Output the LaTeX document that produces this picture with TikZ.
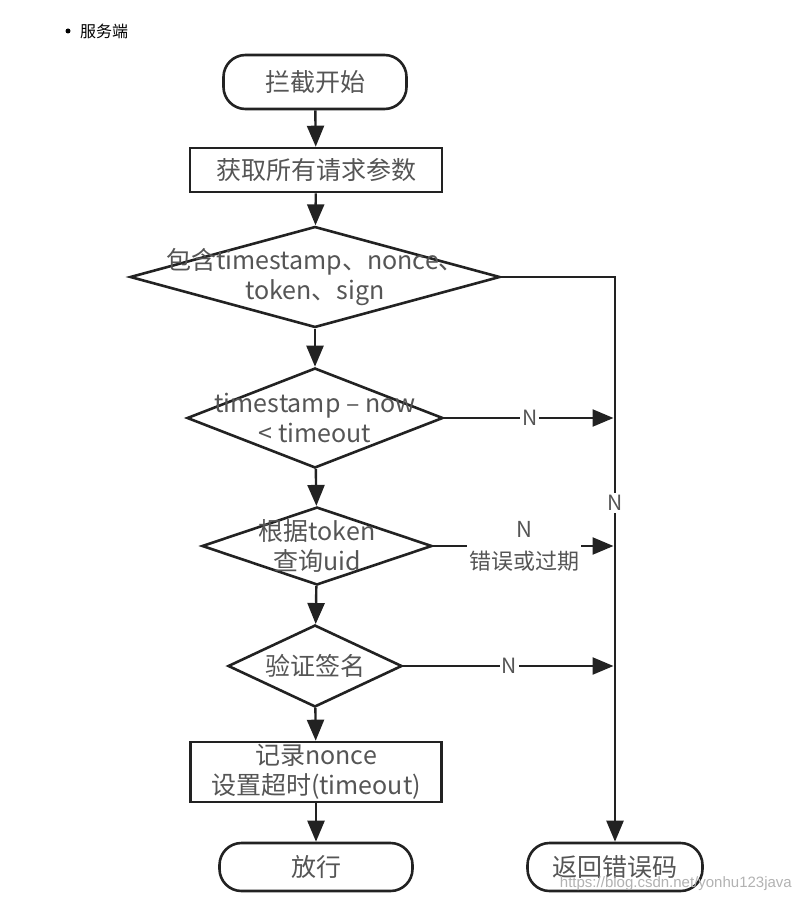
\documentclass[tikz,border=0pt]{standalone}
\usepackage{fontspec}
\setmainfont{Noto Sans CJK SC}
\newfontfamily\wmfont{Liberation Sans}
\usetikzlibrary{arrows.meta,shapes.geometric}
\definecolor{ln}{HTML}{222222}
\definecolor{tx}{HTML}{555555}
\begin{document}
\begin{tikzpicture}[x=1pt,y=-1pt,
  mainfont/.style={font=\fontsize{25}{30}\selectfont},
  box/.style={draw=ln,line width=2.6pt,fill=white,text=tx,mainfont,inner sep=0pt,align=center},
  pill/.style={box,rounded corners=22pt},
  dia/.style={draw=ln,line width=2.6pt,diamond,inner sep=0pt,fill=white},
  lbl/.style={text=tx,mainfont,align=center,inner sep=0pt},
  nlbl/.style={text=tx,font=\fontsize{21}{24}\selectfont,fill=white,inner sep=2pt,align=center},
  conn/.style={draw=ln,line width=2.4pt,-{Triangle[length=21pt,width=17pt]}},
]
\useasboundingbox (0,0) rectangle (801,901);

% bullet heading
\node[circle,fill=black,inner sep=0pt,minimum size=5pt] (bul) at (68,31) {};
\node[anchor=west,inner sep=0pt,font=\fontsize{16}{18}\selectfont] (head) at (80,31) {服务端};

% nodes
\node[pill,minimum width=183pt,minimum height=54pt] (start) at (315,82) {拦截开始};
\node[box,minimum width=252pt,minimum height=44pt] (get) at (316,170) {获取所有请求参数};
\node[dia,minimum width=370pt,minimum height=101pt] (d1) at (315,277) {};
\node[lbl] (t1) at (d1.center) {包含timestamp、nonce、\\token、sign};
\node[dia,minimum width=256pt,minimum height=100pt] (d2) at (315,418) {};
\node[lbl] (t2) at (d2.center) {timestamp – now\\< timeout};
\node[dia,minimum width=230pt,minimum height=78pt] (d3) at (317,546) {};
\node[lbl] (t3) at (d3.center) {根据token\\查询uid};
\node[dia,minimum width=174pt,minimum height=82pt] (d4) at (315,666) {};
\node[lbl] (t4) at (d4.center) {验证签名};
\node[box,minimum width=251pt,minimum height=60pt] (rec) at (316,772) {记录nonce\\设置超时(timeout)};
\node[pill,minimum width=193pt,minimum height=48pt] (pass) at (316,867) {放行};
\node[pill,minimum width=175pt,minimum height=48pt] (err) at (615,867) {返回错误码};

% main flow
\draw[conn] (start) -- (get);
\draw[conn] (get) -- (d1);
\draw[conn] (d1) -- (d2);
\draw[conn] (d2) -- (d3);
\draw[conn] (d3) -- (d4);
\draw[conn] (d4) -- (rec);
\draw[conn] (rec) -- (pass);

% error branches
\draw[conn,line join=miter] (d1.east) -- (d1.east -| err.north) -- node[nlbl,pos=0.4] {N} (err.north);
\draw[conn,shorten >=1.5pt] (d2.east) -- node[nlbl] {N} (d2.east -| err.north);
\draw[conn,shorten >=1.5pt] (d3.east) -- node[nlbl,font=\fontsize{22}{32}\selectfont,text=tx] {N\\错误或过期} (d3.east -| err.north);
\draw[conn,shorten >=1.5pt] (d4.east) -- node[nlbl] {N} (d4.east -| err.north);

% watermark
\node[anchor=east,inner sep=0pt,text=black!30,font=\wmfont\fontsize{15}{18}\selectfont] (wm) at (792,884) {https://blog.csdn.net/yonhu123java};
\end{tikzpicture}
\end{document}
